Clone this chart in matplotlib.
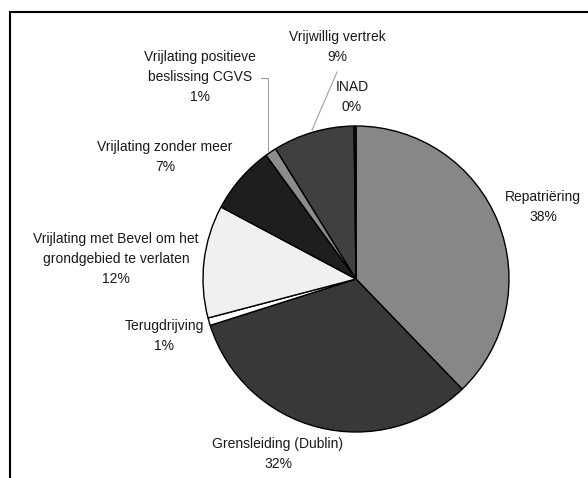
import matplotlib
matplotlib.use("Agg")
import matplotlib.pyplot as plt
from matplotlib.patches import Rectangle
from matplotlib.lines import Line2D

# slices, clockwise from 12 o'clock
categories = [
    "Repatriëring",
    "Grensleiding (Dublin)",
    "Terugdrijving",
    "Vrijlating met Bevel om het\ngrondgebied te verlaten",
    "Vrijlating zonder meer",
    "Vrijlating positieve\nbeslissing CGVS",
    "Vrijwillig vertrek",
    "INAD",
]
shares = [37.8, 32.3, 0.8, 11.9, 7.2, 1.2, 8.6, 0.2]
colors = ["#878787", "#383838", "#ffffff", "#f0f0f0", "#1e1e1e", "#8c8c8c", "#404040", "#202020"]

# label centres in pixels (x, y from top)
label_pos = [(543, 207), (278, 454), (164, 336), (116, 259),
             (165, 157), (200, 77), (337, 47), (352, 97)]

W, H = 588, 478
fig = plt.figure(figsize=(W / 100, H / 100), dpi=100)
plt.rcParams["font.family"] = ["Liberation Sans", "DejaVu Sans"]

cx, cy, r = 356, 279, 153
ax = fig.add_axes([(cx - r) / W, (H - cy - r) / H, 2 * r / W, 2 * r / H])
ax.pie(shares, colors=colors, startangle=90, counterclock=False,
       wedgeprops=dict(edgecolor="black", linewidth=1.0))
ax.set_xlim(-1.0, 1.0)
ax.set_ylim(-1.0, 1.0)
ax.set_aspect("equal")
ax.axis("off")

total = sum(shares)
for name, v, (px, py) in zip(categories, shares, label_pos):
    txt = f"{name}\n{round(v / total * 100)}%"
    fig.text(px / W, 1 - py / H, txt, ha="center", va="center",
             fontsize=10, linespacing=1.55, color="#1a1a1a")

# leader lines (pixel coords)
def pix_line(xs, ys):
    fig.add_artist(Line2D([x / W for x in xs], [1 - y / H for y in ys],
                          transform=fig.transFigure, color="#a0a0a0", lw=0.8))

pix_line([261, 268, 268], [78, 78, 151])
pix_line([337, 312], [72, 130])

# outer frame
fig.add_artist(Rectangle((10 / W, -0.1), 1.2, 1.1 - 12 / H, transform=fig.transFigure,
                         fill=False, edgecolor="black", lw=1.5))

fig.savefig("out.png", dpi=100)
